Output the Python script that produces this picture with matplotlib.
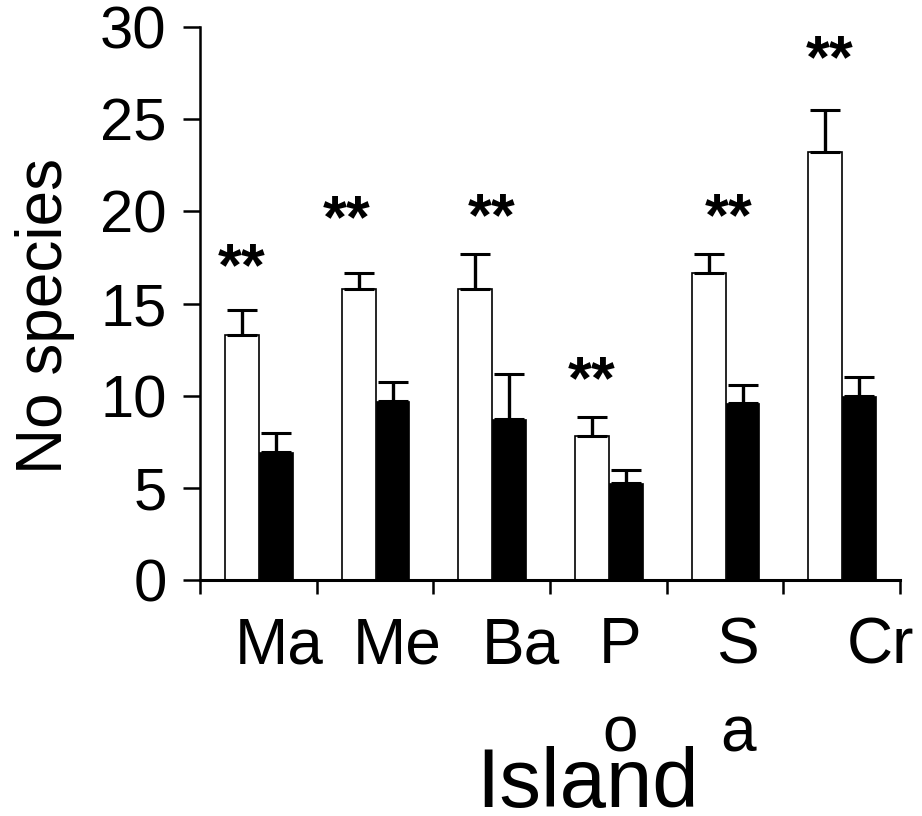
import matplotlib
matplotlib.use('Agg')
import matplotlib.pyplot as plt
import numpy as np

# values
islands = ['Ma', 'Me', 'Ba', 'P\no', 'S\na', 'Cr']
white_mean = [13.3, 15.8, 15.8, 7.8, 16.65, 23.2]
white_err = [1.35, 0.85, 1.9, 1.05, 1.05, 2.3]
black_mean = [6.95, 9.7, 8.75, 5.25, 9.6, 10.0]
black_err = [1.0, 1.05, 2.45, 0.7, 1.0, 1.0]
star_y = [16.0, 18.6, 18.7, 9.85, 18.7, 27.3]

# layout tweaks (label / star placement as in the original)
label_shift = [0.18, 0.19, 0.25, 0.10, 0.11, 0.335]
star_shift = [0.0, -0.10, 0.14, 0.0, 0.17, 0.04]

plt.rcParams['font.family'] = ['Liberation Sans', 'DejaVu Sans']

fig = plt.figure(figsize=(9.22, 8.16), dpi=100)
ax = fig.add_axes([200 / 922, 1 - 580 / 816, 700 / 922, 553 / 816])

x = np.arange(len(islands))
xw = x + 0.36
xb = x + 0.65
bw = 0.29

ax.bar(xw, white_mean, bw, color='white', edgecolor='black', linewidth=1.2, zorder=2)
ax.bar(xb, black_mean, bw, color='black', edgecolor='black', linewidth=0.5, zorder=2)
ax.errorbar(xw, white_mean, yerr=[np.zeros(6), white_err], fmt='none',
            ecolor='black', elinewidth=2.4, capsize=10.8, capthick=2.2, zorder=3)
ax.errorbar(xb, black_mean, yerr=[np.zeros(6), black_err], fmt='none',
            ecolor='black', elinewidth=2.4, capsize=10.8, capthick=2.2, zorder=3)

for i in range(len(islands)):
    ax.text(xw[i] + star_shift[i], star_y[i], '**', ha='center', va='baseline',
            fontsize=44, fontweight='bold')

ax.set_xlim(0, 6)
ax.set_ylim(0, 30)
ax.set_yticks([0, 5, 10, 15, 20, 25, 30])
ax.tick_params(axis='y', labelsize=43, length=12, width=1.8, pad=12)

ax.set_xticks(x.tolist() + [6])
ax.set_xticklabels([])
ax.tick_params(axis='x', which='major', length=10, width=1.8)
ax.set_xticks(x + 0.5 + np.array(label_shift), minor=True)
ax.set_xticklabels(islands, minor=True, linespacing=1.6)
ax.tick_params(axis='x', which='minor', length=0, labelsize=46, pad=26)

for s in ['top', 'right']:
    ax.spines[s].set_visible(False)
ax.spines['left'].set_linewidth(1.8)
ax.spines['bottom'].set_linewidth(2.2)

ax.text(-0.221, 0.477, 'No species', transform=ax.transAxes, rotation=90,
        ha='center', va='center', fontsize=46)
ax.text(0.554, -0.411, 'Island', transform=ax.transAxes, ha='center',
        va='baseline', fontsize=60)

fig.savefig('out.png', dpi=100)
